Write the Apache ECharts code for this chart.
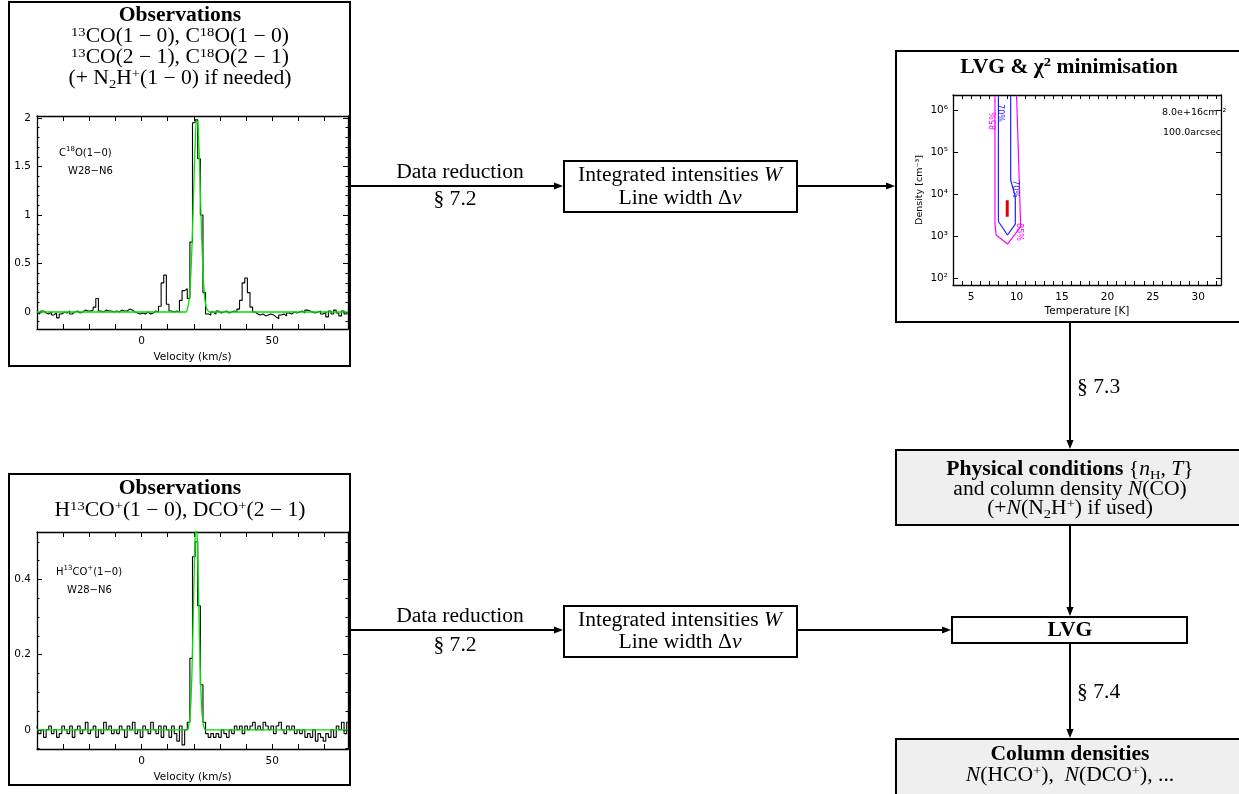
<!DOCTYPE html>
<html><head><meta charset="utf-8">
<script src="https://cdn.jsdelivr.net/npm/echarts@6/dist/echarts.min.js"></script>
<style>html,body{margin:0;padding:0;background:#fff}#c{width:1239px;height:794px}</style>
</head><body><div id="c"></div>
<script>
// ---------------- DATA ----------------
// Spectrum 1: C18O(1-0), W28-N6 ; channel i -> velocity spec1Start + i*spec1Step (km/s)
const spec1Start = -40, spec1Step = 1;
const spec1 = [
  0.00,-0.02,0.01,-0.01,-0.02,0.00,-0.03,-0.01,-0.06,-0.02,
  0.00,-0.01,0.01,-0.02,0.00,0.01,-0.01,0.00,0.02,0.01,
  0.01,0.02,0.05,0.14,0.01,0.00,0.02,0.01,0.01,0.00,
  0.01,0.00,0.02,0.01,0.01,0.03,0.02,0.00,-0.01,-0.02,
  -0.01,-0.02,0.00,-0.02,-0.01,0.01,0.00,0.06,0.30,0.38,
  0.08,0.01,0.00,0.01,0.00,0.12,0.22,0.24,0.14,0.72,
  1.95,1.98,1.58,1.00,0.20,-0.02,-0.03,0.00,-0.02,0.01,
  -0.01,0.00,0.01,-0.01,0.00,0.01,0.00,0.03,0.12,0.30,
  0.35,0.20,0.05,0.00,-0.02,-0.03,-0.02,-0.04,-0.03,-0.02,
  -0.03,-0.05,-0.07,-0.03,-0.02,-0.04,-0.01,-0.02,0.00,-0.01,
  0.00,0.01,-0.01,0.02,0.01,0.00,-0.01,0.00,0.01,-0.02,
  0.00,-0.05,0.01,-0.02,0.02,-0.01,-0.04,0.01,-0.02,0.00
];
// Gaussian fit 1 (velocity, intensity)
const fit1 = [[-40,0],[17,0],[17.5,0.03],[18,0.09],[18.5,0.22],[19,0.47],[19.5,0.84],[20,1.30],
  [20.5,1.72],[21,1.97],[21.5,1.96],[22,1.68],[22.5,1.24],[23,0.79],[23.5,0.43],[24,0.20],
  [24.5,0.08],[25,0.03],[25.5,0.01],[26,0],[79,0]];

// Spectrum 2: H13CO+(1-0), W28-N6
const spec2Start = -40, spec2Step = 1;
const spec2 = [
  0.01,-0.01,0.00,-0.02,0.00,0.01,-0.01,0.00,-0.02,-0.01,
  0.01,0.00,-0.01,0.01,-0.02,0.00,0.01,-0.01,0.00,0.02,
  -0.01,0.00,0.01,-0.02,0.00,-0.01,0.02,0.00,0.01,-0.01,
  0.00,-0.01,0.01,0.00,-0.02,0.01,0.00,0.02,-0.01,0.00,
  -0.02,0.01,0.00,-0.01,0.02,0.00,-0.01,0.01,-0.02,0.01,
  0.00,-0.02,0.01,-0.01,-0.03,0.01,-0.04,0.00,0.02,0.19,
  0.46,0.50,0.33,0.12,0.02,-0.01,-0.02,-0.01,-0.02,-0.01,
  -0.02,0.00,-0.01,-0.02,0.00,-0.01,0.01,0.00,0.01,-0.01,
  0.01,0.00,0.01,0.02,0.00,0.01,0.00,0.02,0.01,0.00,
  0.01,-0.01,0.01,0.02,0.00,-0.01,0.01,0.00,0.01,-0.01,
  0.00,-0.01,0.00,-0.02,-0.01,-0.02,0.00,-0.03,-0.01,-0.02,
  -0.03,-0.01,-0.02,0.00,-0.02,0.01,0.00,0.02,-0.01,0.02
];
const fit2 = [[-40,0],[17.5,0],[18,0.01],[18.5,0.03],[19,0.09],[19.5,0.21],[20,0.37],[20.5,0.51],
  [21,0.55],[21.5,0.46],[22,0.30],[22.5,0.15],[23,0.06],[23.5,0.02],[24,0.005],[24.5,0],[79,0]];

// chi2 contours: [Temperature K, density cm-3]
const contour85 = [[7.62,2.2e6],[7.62,2000],[7.75,1070],[9.0,650],[10.45,1700],[10.0,2.2e6]];
const contour70 = [[8.0,2.2e6],[8.0,2240],[9.0,1070],[9.86,1950],[9.86,8700],[9.35,21500],[9.35,2.2e6]];
const bestFit = [[8.97,2900],[8.97,7200]];

// tick labels
const velTickLabels = [0, 50];
const spec1YTickLabels = [0, 0.5, 1, 1.5, 2];
const spec2YTickLabels = [0, 0.2, 0.4];
const tempTickLabels = [5, 10, 15, 20, 25, 30];
const densTickExps = [2, 3, 4, 5, 6];

// ---------------- CHART ----------------
const SANS = 'DejaVu Sans', SERIF = 'Liberation Serif';
const chart = echarts.init(document.getElementById('c'), null, {renderer: 'canvas', width: 1239, height: 794});
const near = (a, b) => Math.abs(a - b) < 1e-6;
const supDigits = {'0':'⁰','1':'¹','2':'²','3':'³','4':'⁴','5':'⁵','6':'⁶','7':'⁷','8':'⁸','9':'⁹'};
const tick = {show: true, inside: true, length: 5, lineStyle: {color: '#000', width: 1}};
const line = {show: true, onZero: false, lineStyle: {color: '#000', width: 1.3}};
const lab = {color: '#000', fontFamily: SANS, fontSize: 10.5};

function xPair(grid, min, max, interval, formatter, name) {
  return [
    {type: 'value', gridIndex: grid, position: 'bottom', min, max, interval, axisLine: line, axisTick: tick,
     splitLine: {show: false}, axisLabel: Object.assign({margin: 7, formatter, showMinLabel: true, showMaxLabel: true}, lab),
     name, nameLocation: 'middle', nameGap: 23, nameTextStyle: {color: '#000', fontFamily: SANS, fontSize: 10.5}},
    {type: 'value', gridIndex: grid, position: 'top', min, max, interval, axisLine: line, axisTick: tick,
     splitLine: {show: false}, axisLabel: {show: false}}
  ];
}
function yPair(grid, opts, formatter, name) {
  const base = Object.assign({gridIndex: grid, axisLine: line, splitLine: {show: false}}, opts);
  const minor = opts.minor ? {show: true, splitNumber: opts.minor, length: 2.5, lineStyle: {color: '#000'}} : {show: false};
  return [
    Object.assign({}, base, {position: 'left', axisTick: tick, minorTick: minor,
      axisLabel: Object.assign({margin: 6, formatter}, lab),
      name, nameLocation: 'middle', nameGap: 28, nameRotate: 90, nameTextStyle: {color: '#000', fontFamily: SANS, fontSize: 9.5}}),
    Object.assign({}, base, {position: 'right', axisTick: tick, minorTick: minor, axisLabel: {show: false}})
  ];
}
const velFmt = v => velTickLabels.some(t => near(t, v)) ? String(Math.round(v)) : '';
const yFmt = list => v => list.some(t => near(t, v)) ? String(+v.toFixed(2)) : '';

const xAxis = [].concat(
  xPair(0, -40, 79, 10, velFmt, 'Velocity (km/s)'),
  xPair(1, -40, 79, 10, velFmt, 'Velocity (km/s)'),
  xPair(2, 3, 32.5, 1, v => tempTickLabels.some(t => near(t, v)) ? String(Math.round(v)) : '', 'Temperature [K]')
);
xAxis[4].nameGap = 21;
xAxis[4].axisTick = Object.assign({}, tick, {length: 4});
xAxis[5].axisTick = Object.assign({}, tick, {length: 4});
const yAxis = [].concat(
  yPair(0, {type: 'value', min: -0.175, max: 2.02, splitNumber: 5, minor: 5}, yFmt(spec1YTickLabels), ''),
  yPair(1, {type: 'value', min: -0.051, max: 0.526, splitNumber: 3, minor: 4}, yFmt(spec2YTickLabels), ''),
  yPair(2, {type: 'log', logBase: 10, min: 69, max: 2.3e6}, v => {
    const e = Math.log10(v);
    return densTickExps.some(t => near(t, e)) ? '10' + supDigits[String(Math.round(e))] : '';
  }, 'Density [cm⁻³]')
);
yAxis[4].axisLabel.margin = 5;

const toXY = (arr, s0, ds) => arr.map((y, i) => [s0 + i * ds, y]);
const series = [
  {type: 'line', name: 'C18O', xAxisIndex: 0, yAxisIndex: 0, data: toXY(spec1, spec1Start, spec1Step), step: 'middle',
   showSymbol: false, lineStyle: {color: '#000', width: 1.1}, z: 2, silent: true},
  {type: 'line', name: 'fit1', xAxisIndex: 0, yAxisIndex: 0, data: fit1, showSymbol: false, smooth: 0.3,
   lineStyle: {color: '#00e000', width: 1.3}, z: 3, silent: true},
  {type: 'line', name: 'H13CO+', xAxisIndex: 2, yAxisIndex: 2, data: toXY(spec2, spec2Start, spec2Step), step: 'middle',
   showSymbol: false, lineStyle: {color: '#000', width: 1.1}, z: 2, silent: true},
  {type: 'line', name: 'fit2', xAxisIndex: 2, yAxisIndex: 2, data: fit2, showSymbol: false, smooth: 0.3,
   lineStyle: {color: '#00e000', width: 1.3}, z: 3, silent: true},
  {type: 'line', name: '85%', xAxisIndex: 4, yAxisIndex: 4, data: contour85, showSymbol: false,
   lineStyle: {color: '#ff00ff', width: 1.2}, silent: true},
  {type: 'line', name: '70%', xAxisIndex: 4, yAxisIndex: 4, data: contour70, showSymbol: false,
   lineStyle: {color: '#2020ff', width: 1.2}, silent: true},
  {type: 'line', name: 'best', xAxisIndex: 4, yAxisIndex: 4, data: bestFit, showSymbol: false,
   lineStyle: {color: '#e00000', width: 3}, silent: true}
];

// ---------------- FLOWCHART GRAPHICS ----------------
const G = [];
function box(x, y, w, h, fill) {
  G.push({type: 'rect', shape: {x, y, width: w, height: h}, style: {fill: fill || 'none', stroke: '#000', lineWidth: 2}, z: -5, silent: true});
}
function arrow(x1, y1, x2, y2) {
  const horiz = y1 === y2;
  const L = 9, W = 3.6;
  const lx = horiz ? x2 - 6 : x2, ly = horiz ? y2 : y2 - 6;
  G.push({type: 'line', shape: {x1, y1, x2: lx, y2: ly}, style: {stroke: '#000', lineWidth: 2}, silent: true});
  const pts = horiz ? [[x2, y2], [x2 - L, y2 - W], [x2 - L, y2 + W]] : [[x2, y2], [x2 - W, y2 - L], [x2 + W, y2 - L]];
  G.push({type: 'polygon', shape: {points: pts}, style: {fill: '#000'}, silent: true});
}
const FS = 20, SUP = 13.5;
const RICH = {
  b: {fontFamily: SERIF, fontSize: FS, fontWeight: 'bold', lineHeight: 24},
  i: {fontFamily: SERIF, fontSize: FS, fontStyle: 'italic', lineHeight: 24},
  sup: {fontFamily: SERIF, fontSize: SUP, lineHeight: 16, verticalAlign: 'top'},
  bsup: {fontFamily: SERIF, fontSize: SUP, fontWeight: 'bold', lineHeight: 16, verticalAlign: 'top'},
  sub: {fontFamily: SERIF, fontSize: SUP, lineHeight: 15, verticalAlign: 'bottom'}
};
function txt(x, y, text, o) {
  o = o || {};
  const serif = !o.font;
  G.push({type: 'text', x, y, rotation: o.rot || 0, scaleX: serif ? 1.08 : 1, silent: true, z: 10,
    style: {text, fontFamily: o.font || SERIF, fontSize: o.size || FS, fontWeight: o.bold ? 'bold' : 'normal',
      fill: o.color || '#000', align: o.align || 'center', verticalAlign: 'middle',
      textAlign: o.align || 'center', textVerticalAlign: 'middle', lineHeight: o.lh || 24, rich: o.rich || RICH}});
}

// boxes
box(9, 2, 341, 364);
box(9, 474, 341, 311);
box(564, 161, 233, 51);
box(564, 606, 233, 51);
box(896, 51, 352, 271);
box(896, 450, 352, 75, '#efefef');
box(952, 617, 235, 26);
box(896, 739, 352, 70, '#efefef');

// arrows
arrow(351, 186, 563, 186);
arrow(797, 186, 895, 186);
arrow(351, 630, 563, 630);
arrow(797, 630, 951, 630);
arrow(1070, 323, 1070, 449);
arrow(1070, 526, 1070, 616);
arrow(1070, 644, 1070, 738);

// box 1 texts
txt(180, 16, '{b|Observations}');
txt(180, 37, '{sup|13}CO(1 − 0), C{sup|18}O(1 − 0)');
txt(180, 58, '{sup|13}CO(2 − 1), C{sup|18}O(2 − 1)');
txt(180, 79, '(+ N{sub|2}H{sup|+}(1 − 0) if needed)');
// box 2 texts
txt(180, 489, '{b|Observations}');
txt(180, 511, 'H{sup|13}CO{sup|+}(1 − 0), DCO{sup|+}(2 − 1)');
// row labels
txt(460, 173, 'Data reduction');
txt(455, 200, '§ 7.2');
txt(680, 176, 'Integrated intensities {i|W}');
txt(680, 199, 'Line width Δ{i|v}');
txt(460, 617, 'Data reduction');
txt(455, 646, '§ 7.2');
txt(680, 621, 'Integrated intensities {i|W}');
txt(680, 643, 'Line width Δ{i|v}');
// right column
txt(1069, 68, '{b|LVG & χ}{bsup|2}{b| minimisation}');
txt(1077, 388, '§ 7.3', {align: 'left'});
txt(1070, 470, '{b|Physical conditions} {{i|n}{sub|H}, {i|T}}');
txt(1070, 490, 'and column density {i|N}(CO)');
txt(1070, 509, '(+{i|N}(N{sub|2}H{sup|+}) if used)');
txt(1070, 631, '{b|LVG}');
txt(1077, 693, '§ 7.4', {align: 'left'});
txt(1070, 755, '{b|Column densities}');
txt(1070, 776, '{i|N}(HCO{sup|+}),  {i|N}(DCO{sup|+}), ...');

// annotations inside the plots
const SRICH = {s: {fontFamily: SANS, fontSize: 7, lineHeight: 9, verticalAlign: 'top'}};
txt(59, 153, 'C{s|18}O(1−0)', {font: SANS, size: 10, align: 'left', lh: 14, rich: SRICH});
txt(68, 171, 'W28−N6', {font: SANS, size: 10, align: 'left', lh: 14, rich: SRICH});
txt(56, 572, 'H{s|13}CO{s|+}(1−0)', {font: SANS, size: 10, align: 'left', lh: 14, rich: SRICH});
txt(67, 590, 'W28−N6', {font: SANS, size: 10, align: 'left', lh: 14, rich: SRICH});
txt(1162, 113, '8.0e+16cm⁻²', {font: SANS, size: 9.5, align: 'left', lh: 12});
txt(1163, 133, '100.0arcsec', {font: SANS, size: 9.5, align: 'left', lh: 12});
txt(994, 121, '85%', {font: SANS, size: 8, color: '#ff00ff', rot: Math.PI / 2, lh: 10});
txt(1000, 113, '70%', {font: SANS, size: 8, color: '#2020ff', rot: -Math.PI / 2, lh: 10});
txt(1015, 189, '70%', {font: SANS, size: 8, color: '#2020ff', rot: -Math.PI / 2, lh: 10});
txt(1019, 232, '85%', {font: SANS, size: 8, color: '#ff00ff', rot: -Math.PI / 2, lh: 10});

chart.setOption({
  backgroundColor: '#fff',
  animation: false,
  grid: [
    {left: 37, top: 116, width: 311, height: 213, containLabel: false, outerBoundsMode: 'none'},
    {left: 37, top: 532, width: 311, height: 217, containLabel: false, outerBoundsMode: 'none'},
    {left: 953, top: 95, width: 268, height: 190, containLabel: false, outerBoundsMode: 'none'}
  ],
  xAxis, yAxis, series,
  graphic: {elements: G}
});
</script></body></html>
